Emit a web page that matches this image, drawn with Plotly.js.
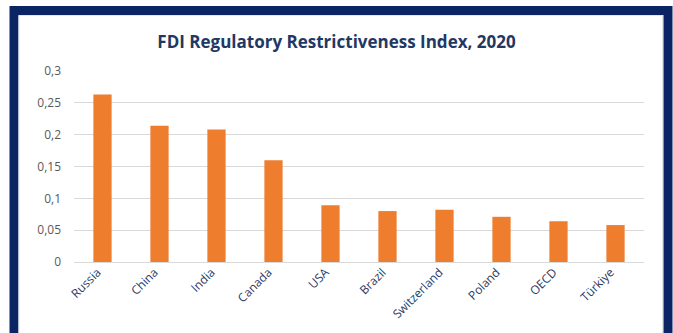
<!DOCTYPE html>
<html>
<head>
<meta charset="utf-8">
<script src="https://cdn.plot.ly/plotly-3.0.1.min.js"></script>
<style>html,body{margin:0;padding:0;background:#fff;}#chart{width:673px;height:333px;}</style>
</head>
<body>
<div id="chart"></div>
<script>
const countries = ["Russia", "China", "India", "Canada", "USA", "Brazil", "Switzerland", "Poland", "OECD", "Türkiye"];
const indexValues = [0.263, 0.214, 0.208, 0.160, 0.089, 0.080, 0.082, 0.071, 0.064, 0.058];
const yTickValues = [0, 0.05, 0.1, 0.15, 0.2, 0.25, 0.3];
const yTickLabels = ["0", "0,05", "0,1", "0,15", "0,2", "0,25", "0,3"];

const W = 673, H = 333;
const m = {l: 74, r: 29, t: 71, b: 71};
const pw = W - m.l - m.r, ph = H - m.t - m.b;
const px = x => (x - m.l) / pw;
const py = y => (H - m.b - y) / ph;
const navy = "#0B2463";

const trace = {
  type: "bar",
  x: countries,
  y: indexValues,
  marker: {color: "#EE7D2E"},
  hoverinfo: "x+y"
};

const layout = {
  width: W, height: H,
  margin: m,
  paper_bgcolor: "#ffffff",
  plot_bgcolor: "#ffffff",
  separators: ",.",
  bargap: 0.68,
  showlegend: false,
  title: {
    text: "<b>FDI Regulatory Restrictiveness Index, 2020</b>",
    font: {family: "Open Sans, Noto Sans, sans-serif", size: 17, color: "#1F3864"},
    x: 0.5, xanchor: "center",
    y: 1 - 42 / H, yanchor: "middle"
  },
  xaxis: {
    type: "category",
    tickangle: -45,
    tickfont: {family: "Open Sans, Noto Sans, sans-serif", size: 12, color: "#2B3A66"},
    showgrid: false,
    showline: false,
    ticks: "",
    ticklabelshift: -5,
    fixedrange: true
  },
  yaxis: {
    range: [0, 0.3],
    tickvals: yTickValues,
    ticktext: yTickLabels,
    tickfont: {family: "Open Sans, Noto Sans, sans-serif", size: 12, color: "#595959"},
    showgrid: true,
    gridcolor: "#D9D9D9",
    gridwidth: 1,
    zeroline: true,
    zerolinecolor: "#D9D9D9",
    zerolinewidth: 1,
    showline: false,
    ticks: "",
    ticklabelstandoff: 12,
    fixedrange: true
  },
  shapes: [
    {type: "rect", xref: "paper", yref: "paper",
     x0: px(14), x1: px(668), y0: py(350), y1: py(10.5),
     line: {color: navy, width: 9}, fillcolor: "rgba(0,0,0,0)", layer: "above"},
    {type: "rect", xref: "paper", yref: "paper",
     x0: px(19), x1: px(662.5), y0: py(350), y1: py(15.5),
     line: {color: "#E4E6EC", width: 1}, fillcolor: "rgba(0,0,0,0)", layer: "above"}
  ]
};

Plotly.newPlot("chart", [trace], layout, {displayModeBar: false, staticPlot: true});
</script>
</body>
</html>
